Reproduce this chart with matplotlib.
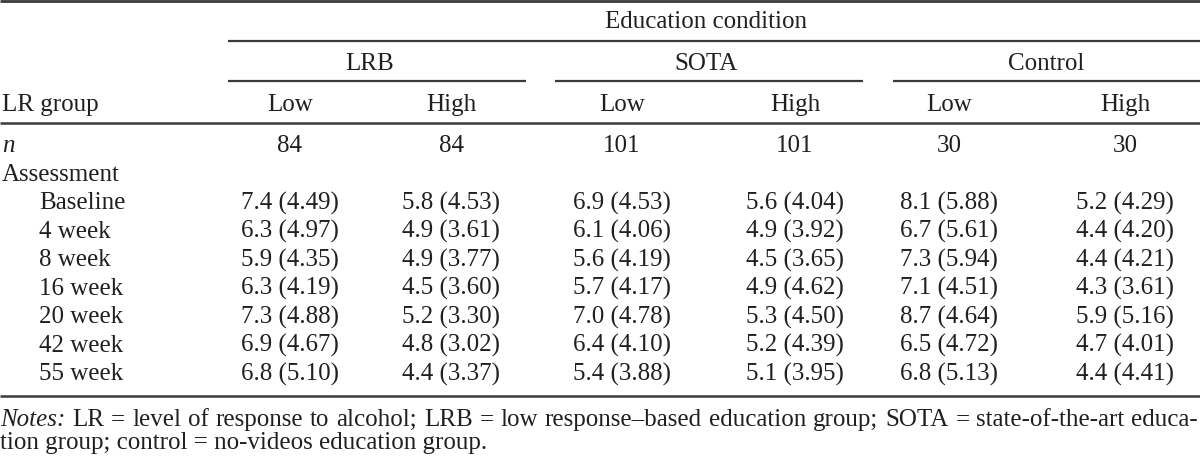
import matplotlib
matplotlib.use("Agg")
import matplotlib.pyplot as plt

# table content
groups = ["LRB", "SOTA", "Control"]
lr_levels = ["Low", "High"]
n_values = [84, 84, 101, 101, 30, 30]
assessments = ["Baseline", "4 week", "8 week", "16 week", "20 week", "42 week", "55 week"]

lrb_low_mean = [7.4, 6.3, 5.9, 6.3, 7.3, 6.9, 6.8]
lrb_low_sd = [4.49, 4.97, 4.35, 4.19, 4.88, 4.67, 5.10]
lrb_high_mean = [5.8, 4.9, 4.9, 4.5, 5.2, 4.8, 4.4]
lrb_high_sd = [4.53, 3.61, 3.77, 3.60, 3.30, 3.02, 3.37]
sota_low_mean = [6.9, 6.1, 5.6, 5.7, 7.0, 6.4, 5.4]
sota_low_sd = [4.53, 4.06, 4.19, 4.17, 4.78, 4.10, 3.88]
sota_high_mean = [5.6, 4.9, 4.5, 4.9, 5.3, 5.2, 5.1]
sota_high_sd = [4.04, 3.92, 3.65, 4.62, 4.50, 4.39, 3.95]
ctrl_low_mean = [8.1, 6.7, 7.3, 7.1, 8.7, 6.5, 6.8]
ctrl_low_sd = [5.88, 5.61, 5.94, 4.51, 4.64, 4.72, 5.13]
ctrl_high_mean = [5.2, 4.4, 4.4, 4.3, 5.9, 4.7, 4.4]
ctrl_high_sd = [4.29, 4.20, 4.21, 3.61, 5.16, 4.01, 4.41]

notes_line1 = "LR = level of response to alcohol; LRB = low response\u2013based education group; SOTA = state-of-the-art educa-"
notes_line2 = "tion group; control = no-videos education group."

columns = [
    (lrb_low_mean, lrb_low_sd), (lrb_high_mean, lrb_high_sd),
    (sota_low_mean, sota_low_sd), (sota_high_mean, sota_high_sd),
    (ctrl_low_mean, ctrl_low_sd), (ctrl_high_mean, ctrl_high_sd),
]

# layout (pixel coordinates)
col_x = [290, 451, 622, 795, 949, 1125]
group_spans = [(228, 526), (555, 863), (893, 1200)]
group_x = [370, 706, 1046]
fs = 18
ink = "#231f20"
rule = "#3a3a3a"
font = "Liberation Serif"
base = 8.3  # offset from visual centre to baseline

plt.rcParams["font.family"] = font
fig = plt.figure(figsize=(12, 4.6), dpi=100)
ax = fig.add_axes([0, 0, 1, 1])
ax.set_xlim(0, 1200)
ax.set_ylim(460, 0)
ax.axis("off")


def txt(x, y, s, ha="center", **kw):
    return ax.text(x, y + base, s, ha=ha, va="baseline", fontsize=fs, color=ink, **kw)


# rules
ax.plot([0, 1200], [1.5, 1.5], color=rule, lw=2.0, solid_capstyle="butt")
ax.plot([228, 1200], [42, 42], color=rule, lw=1.6, solid_capstyle="butt")
for x0, x1 in group_spans:
    ax.plot([x0, x1], [82, 82], color=rule, lw=1.6, solid_capstyle="butt")
ax.plot([0, 1200], [124, 124], color=rule, lw=1.8, solid_capstyle="butt")
ax.plot([0, 1200], [397, 397], color=rule, lw=1.8, solid_capstyle="butt")

# header
txt(706, 20, "Education condition")
for g, gx in zip(groups, group_x):
    txt(gx, 62, g)
txt(2, 103, "LR group", ha="left")
for i, x in enumerate(col_x):
    txt(x, 103, lr_levels[i % 2])

# n row
txt(2, 144, "n", ha="left", style="italic")
for x, n in zip(col_x, n_values):
    txt(x, 144, str(n))

txt(2, 173, "Assessment", ha="left")
for r, name in enumerate(assessments):
    y = 201 + 28.5 * r
    txt(39, y, name, ha="left")
    for x, (means, sds) in zip(col_x, columns):
        txt(x, y, f"{means[r]:.1f} ({sds[r]:.2f})")

# notes, first line justified to full width
renderer = fig.canvas.get_renderer()
words = [("Notes:", "italic")] + [(w, "normal") for w in notes_line1.split(" ")]
items = [txt(0, 418, w, ha="left", style=st) for w, st in words]
widths = [t.get_window_extent(renderer).width for t in items]
gap = (1198 - sum(widths)) / (len(items) - 1)
pos = 0
for t, w in zip(items, widths):
    t.set_x(pos)
    pos += w + gap
txt(0, 441, notes_line2, ha="left")

fig.savefig("out.png", dpi=100)
